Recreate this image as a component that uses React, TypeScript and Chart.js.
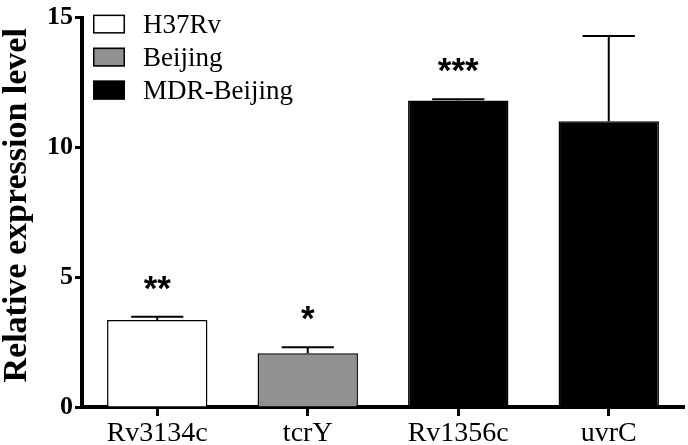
import React, { useEffect, useRef } from "react";
import { Chart, registerables } from "chart.js";

Chart.register(...registerables);

const categories = ["Rv3134c", "tcrY", "Rv1356c", "uvrC"];
const values = [3.35, 2.07, 11.81, 11.01];
const errors = [0.13, 0.23, 0.04, 3.28];
const significance = ["**", "*", "***", ""];
const barColors = ["#ffffff", "#919191", "#000000", "#000000"];
const legendLabels = ["H37Rv", "Beijing", "MDR-Beijing"];
const legendColors = ["#ffffff", "#919191", "#000000"];
const yTicks = [0, 5, 10, 15];
const yTitle = "Relative expression level";

const SERIF = "'Liberation Serif', 'Times New Roman', serif";

const overlayPlugin = {
  id: "overlay",
  afterDatasetsDraw(chart: any) {
    const ctx = chart.ctx;
    const meta = chart.getDatasetMeta(0);
    const yScale = chart.scales.y;
    ctx.save();
    meta.data.forEach((bar: any, i: number) => {
      const x = bar.x;
      const top = values[i] + errors[i];
      const yTop = yScale.getPixelForValue(top);
      const yBar = yScale.getPixelForValue(values[i]);
      const half = bar.width * 0.26;
      ctx.strokeStyle = "#000";
      ctx.lineWidth = 2;
      ctx.beginPath();
      ctx.moveTo(x, yBar);
      ctx.lineTo(x, yTop);
      ctx.moveTo(x - half, yTop);
      ctx.lineTo(x + half, yTop);
      ctx.stroke();
      if (significance[i]) {
        ctx.fillStyle = "#000";
        ctx.font = "bold 35px 'Liberation Sans', Arial, sans-serif";
        ctx.textAlign = "center";
        ctx.textBaseline = "alphabetic";
        ctx.fillText(significance[i], x, yTop - 37 + 20);
      }
    });
    // legend
    const area = chart.chartArea;
    const bx = area.left + 11;
    legendLabels.forEach((label, i) => {
      const by = area.top - 3 + i * 33;
      ctx.fillStyle = legendColors[i];
      ctx.fillRect(bx, by, 32, 19);
      ctx.strokeStyle = "#000";
      ctx.lineWidth = 1.5;
      ctx.strokeRect(bx + 0.75, by + 0.75, 30.5, 17.5);
      ctx.fillStyle = "#000";
      ctx.font = `27px ${SERIF}`;
      ctx.textAlign = "left";
      ctx.textBaseline = "alphabetic";
      ctx.fillText(label, bx + 50, by + 18);
    });
    // y axis title
    ctx.translate(26, (area.top + area.bottom) / 2 - 7);
    ctx.rotate(-Math.PI / 2);
    ctx.font = `bold 34px ${SERIF}`;
    ctx.textAlign = "center";
    ctx.textBaseline = "alphabetic";
    ctx.fillStyle = "#000";
    ctx.fillText(yTitle, 0, 0);
    ctx.restore();
  },
};

export default function App() {
  const ref = useRef<HTMLCanvasElement | null>(null);
  useEffect(() => {
    if (!ref.current) return;
    const chart = new Chart(ref.current, {
      type: "bar",
      data: {
        labels: categories,
        datasets: [
          {
            data: values,
            backgroundColor: barColors,
            borderColor: "#000",
            borderWidth: 1.5,
            categoryPercentage: 1,
            barPercentage: 0.667,
          },
        ],
      },
      options: {
        responsive: false,
        animation: false,
        layout: { padding: { top: 13, right: 4, left: 0, bottom: 0 } },
        plugins: { legend: { display: false }, tooltip: { enabled: false } },
        scales: {
          x: {
            offset: true,
            grid: {
              display: true,
              drawOnChartArea: false,
              offset: false,
              tickLength: 9,
              tickWidth: 3,
              tickColor: "#000",
            },
            border: { display: true, color: "#000", width: 4 },
            ticks: { color: "#000", font: { family: SERIF, size: 28 }, padding: 1 },
            afterFit: (s: any) => {
              s.height = 38;
            },
          },
          y: {
            min: 0,
            max: 15,
            afterBuildTicks: (s: any) => {
              s.ticks = yTicks.map((v) => ({ value: v }));
            },
            grid: {
              display: true,
              drawOnChartArea: false,
              tickLength: 7,
              tickWidth: 3,
              tickColor: "#000",
            },
            border: { display: true, color: "#000", width: 4 },
            ticks: {
              color: "#000",
              font: { family: SERIF, size: 26, weight: "bold" },
              padding: 2,
            },
            afterFit: (s: any) => {
              s.width = 82;
            },
          },
        },
      },
      plugins: [overlayPlugin],
    });
    return () => chart.destroy();
  }, []);
  return (
    <div style={{ position: "absolute", left: 0, top: 0, width: 688, height: 445, background: "#fff" }}>
      <canvas ref={ref} width={688} height={445} style={{ display: "block" }} />
    </div>
  );
}
